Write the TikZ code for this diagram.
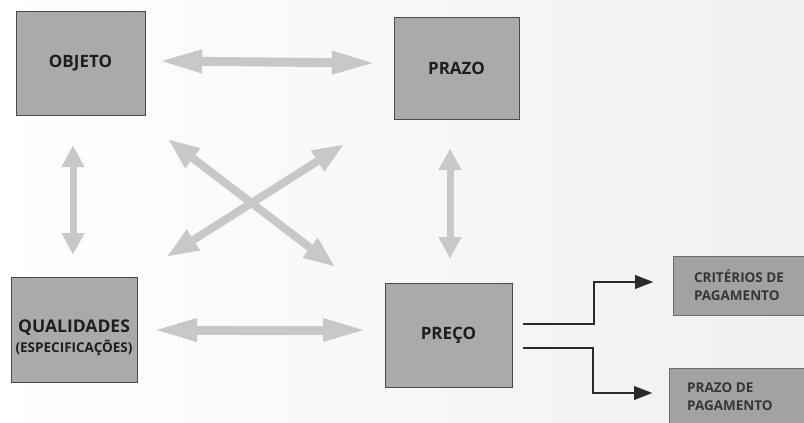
\documentclass[tikz,border=0pt]{standalone}
\usepackage{fontspec}
\setmainfont{Open Sans}
\usetikzlibrary{arrows.meta}
\definecolor{boxfill}{HTML}{AAAAAA}
\definecolor{boxline}{HTML}{4A4A4A}
\definecolor{arrowgray}{HTML}{C8C8C8}
\definecolor{txt}{HTML}{1E1E1E}
\definecolor{txtsoft}{HTML}{363636}
\definecolor{linedark}{HTML}{2A2A2A}
\begin{document}
\begin{tikzpicture}[x=1pt,y=-1pt,
  box/.style={draw=boxline, line width=1pt, fill=boxfill, text=txt, font=\bfseries\fontsize{17}{19}\selectfont, align=center, inner sep=0pt},
  boxtext/.style={text=txt, font=\bfseries\fontsize{17.5}{19}\selectfont, align=center, inner sep=0pt},
  smallbox/.style={draw=boxline!80, line width=1pt, fill=boxfill!95!black, text=txtsoft, font=\bfseries\fontsize{13.5}{18}\selectfont, align=left, inner sep=0pt},
  harrow/.style={draw=arrowgray, line width=9pt, {Triangle[length=40pt,width=24pt,line width=0.1pt]}-{Triangle[length=40pt,width=24pt,line width=0.1pt]}},
  varrow/.style={draw=arrowgray, line width=7pt, {Triangle[length=21pt,width=23pt,line width=0.1pt]}-{Triangle[length=21pt,width=23pt,line width=0.1pt]}},
  darrow/.style={draw=arrowgray, line width=8pt, {Triangle[length=30pt,width=25pt,line width=0.1pt]}-{Triangle[length=30pt,width=25pt,line width=0.1pt]}},
  elbow/.style={draw=linedark, line width=2.8pt, -{Triangle[length=18pt,width=14pt,line width=0.1pt]}}]
\useasboundingbox (0,0) rectangle (804,423);
\shade[left color=white, right color=black!6] (0,0) rectangle (804,423);

% boxes
\node[box, minimum width=129pt, minimum height=104pt] (objeto) at (80.5,63) {OBJETO};
\node[box, minimum width=125pt, minimum height=102pt] (prazo) at (456.5,68) {PRAZO};
\node[box, minimum width=126pt, minimum height=105pt] (qual) at (74,329.5) {};
\node[boxtext] (qualtxt) at (74,338) {QUALIDADES\\[1pt]{\fontsize{13.5}{15}\selectfont(ESPECIFICAÇÕES)}};
\node[box, minimum width=127pt, minimum height=104pt] (preco) at (448.5,335) {PREÇO};
\node[smallbox, minimum width=132pt, minimum height=59pt] (crit) at (739,285.5) {CRITÉRIOS DE\\PAGAMENTO};
\node[smallbox, minimum width=140pt, minimum height=62pt] (prazopag) at (739,399) {};
\node[text=txtsoft, font=\bfseries\fontsize{13.5}{18}\selectfont, align=left, inner sep=0pt, anchor=west] (prazopagtxt) at (687,397) {PRAZO DE\\PAGAMENTO};

% arrow end points
\coordinate (t1) at (162,61);
\coordinate (t2) at (372,63);
\coordinate (b1) at (157,330);
\coordinate (b2) at (363,330);
\coordinate (l1) at (73,146);
\coordinate (l2) at (73,254);
\coordinate (r1) at (450,149);
\coordinate (r2) at (450,258);
\coordinate (d1) at (169,140);
\coordinate (d2) at (334,266);
\coordinate (d3) at (168,256);
\coordinate (d4) at (343,145);

\draw[harrow] (t1) -- (t2);
\draw[harrow] (b1) -- (b2);
\draw[varrow] (l1) -- (l2);
\draw[varrow] (r1) -- (r2);
\draw[darrow] (d1) -- (d2);
\draw[darrow] (d3) -- (d4);

% elbow connectors
\coordinate (s1) at (523,324);
\coordinate (m1) at (594,282);
\coordinate (e1) at (653,282);
\coordinate (s2) at (523,348);
\coordinate (m2) at (593,393);
\coordinate (e2) at (652,393);
\draw[elbow] (s1) -| (m1) -- (e1);
\draw[elbow] (s2) -| (m2) -- (e2);
\end{tikzpicture}
\end{document}
